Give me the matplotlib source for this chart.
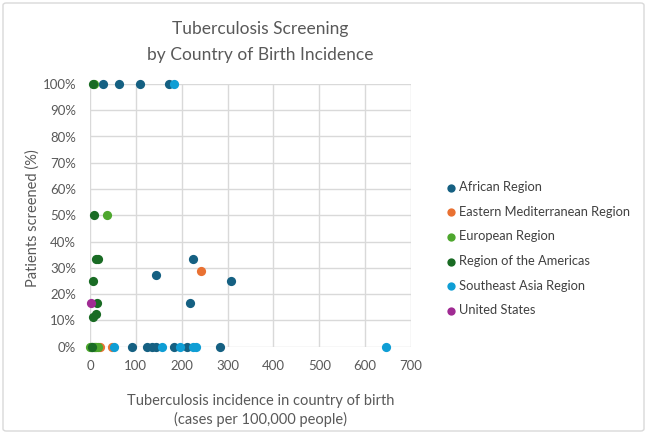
import matplotlib
matplotlib.use("Agg")
import matplotlib.pyplot as plt
from matplotlib.patches import FancyBboxPatch
from matplotlib.ticker import FuncFormatter, MultipleLocator

plt.rcParams['font.family'] = ['Lato', 'DejaVu Sans']

series_names = ["African Region", "Eastern Mediterranean Region", "European Region",
                "Region of the Americas", "Southeast Asia Region", "United States"]
colors = ["#156082", "#E97132", "#4EA72E", "#196B24", "#0F9ED5", "#A02B93"]

african_x = [28, 64, 110, 173, 224, 145, 307, 219, 92, 124, 135, 144, 183, 212, 284]
african_y = [100, 100, 100, 100, 33.3, 27.3, 25, 16.7, 0, 0, 0, 0, 0, 0, 0]
emr_x = [22, 49, 243]
emr_y = [0, 0, 28.6]
euro_x = [9, 37, 1, 3, 5, 8, 11, 14, 17]
euro_y = [100, 50, 0, 0, 0, 0, 0, 0, 0]
amer_x = [7, 9, 13, 17, 6, 15, 12, 5.5, 4]
amer_y = [100, 50, 33.3, 33.3, 25, 16.7, 12.5, 11.1, 0]
sea_x = [184, 52, 158, 196, 225, 231, 645]
sea_y = [100, 0, 0, 0, 0, 0, 0]
us_x = [2]
us_y = [16.7]

xs = [african_x, emr_x, euro_x, amer_x, sea_x, us_x]
ys = [african_y, emr_y, euro_y, amer_y, sea_y, us_y]

fig = plt.figure(figsize=(6.5, 4.36), dpi=100)
ax = fig.add_axes([90/650, 1-346.5/436, (411-90)/650, (346.5-84)/436])

for name, c, x, y in zip(series_names, colors, xs, ys):
    ax.scatter(x, y, s=44, color=c, label=name, zorder=3, linewidths=0, clip_on=False)

ax.set_xlim(0, 700)
ax.set_ylim(0, 100)
ax.xaxis.set_major_locator(MultipleLocator(100))
ax.yaxis.set_major_locator(MultipleLocator(10))
ax.yaxis.set_major_formatter(FuncFormatter(lambda v, p: f"{int(round(v))}%"))
ax.grid(True, color="#D9D9D9", linewidth=1)
ax.set_axisbelow(True)
for s in ax.spines.values():
    s.set_visible(False)
ax.tick_params(axis="x", length=0, labelsize=9.5, colors="#595959", pad=10)
ax.tick_params(axis="y", length=0, labelsize=9.5, colors="#595959", pad=10)

ax.set_ylabel("Patients screened (%)", fontsize=10.5, color="#595959")
ax.yaxis.set_label_coords(33/650, 0.5, transform=fig.transFigure)
ax.yaxis.label.set_va("center")

fig.text(261/650, 1-401/436, "Tuberculosis incidence in country of birth",
         ha="center", va="center", fontsize=10.5, color="#595959")
fig.text(261/650, 1-419/436, "(cases per 100,000 people)",
         ha="center", va="center", fontsize=10.5, color="#595959")

fig.text(260/650, 1-29/436, "Tuberculosis Screening", ha="center", va="center",
         fontsize=12.5, color="#595959")
fig.text(260/650, 1-55/436, "by Country of Birth Incidence", ha="center", va="center",
         fontsize=12.5, color="#595959")

leg = fig.legend(loc="upper left", bbox_to_anchor=(438/650, 1-176/436), frameon=False,
                 fontsize=9.3, labelcolor="#404040", handletextpad=0.0, markerscale=0.9,
                 labelspacing=0.98, borderaxespad=0, handlelength=1.2)

border = FancyBboxPatch((3/650, 5/436), 641/650, 428/436, boxstyle="round,pad=0,rounding_size=0.005",
                        transform=fig.transFigure, fill=False, edgecolor="#D9D9D9", linewidth=1)
fig.patches.append(border)

fig.savefig("out.png", dpi=100)
